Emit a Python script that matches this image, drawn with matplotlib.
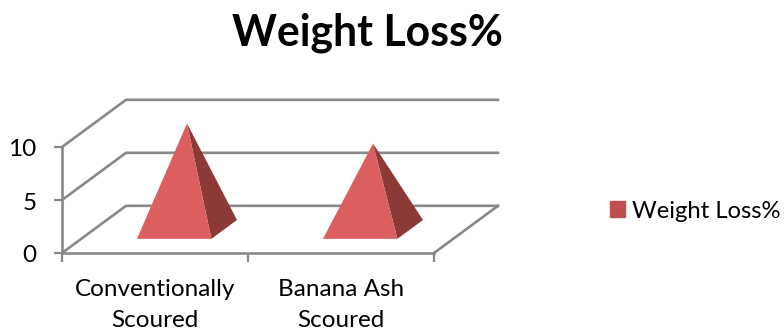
import matplotlib
matplotlib.use('Agg')
import matplotlib.pyplot as plt
from matplotlib.patches import Patch, Polygon
from matplotlib.transforms import ScaledTranslation

plt.rcParams['font.family'] = ['Lato', 'DejaVu Sans']

categories = ['Conventionally\nScoured', 'Banana Ash\nScoured']
weight_loss = [10.0, 8.1]
yticks = [0, 5, 10]

# oblique offset of the back wall, in data units
depth_x = 0.344
depth_y = 4.45
grid_color = '#888888'
line_w = 1.9
half_width = 0.2
front_d, back_d = 0.3, 0.7


def project(x, d, v=0.0):
    return x + d * depth_x, v + d * depth_y


fig = plt.figure(figsize=(7.84, 3.31), dpi=100)
ax = fig.add_axes([62 / 784, 78 / 331, 372 / 784, 106 / 331])
ax.set_xlim(0, 2)
ax.set_ylim(0, 10)

# walls and floor
for v in yticks:
    xs, ys = zip(project(0, 0, v), project(0, 1, v), project(2, 1, v))
    ax.plot(xs, ys, color=grid_color, lw=line_w, clip_on=False, zorder=1)
xs, ys = zip(project(2, 0), project(2, 1))
ax.plot(xs, ys, color=grid_color, lw=line_w, clip_on=False, zorder=1)

# pyramids
for i, val in enumerate(weight_loss):
    c = i + 0.5
    fl = project(c - half_width, front_d)
    fr = project(c + half_width, front_d)
    br = project(c + half_width, back_d)
    apex = project(c, 0.5, val)
    ax.add_patch(Polygon([fr, br, apex], closed=True, fc='#8b3a38', ec='none',
                         clip_on=False, zorder=3))
    ax.add_patch(Polygon([fl, fr, apex], closed=True, fc='#da5f5e', ec='none',
                         clip_on=False, zorder=4))

for side in ['top', 'right']:
    ax.spines[side].set_visible(False)
for side in ['left', 'bottom']:
    ax.spines[side].set_color(grid_color)
    ax.spines[side].set_linewidth(line_w)

ax.set_yticks(yticks)
ax.set_xticks([0, 1, 2])
ax.set_xticks([0.5, 1.5], labels=categories, minor=True)
ax.set_xticklabels([])
ax.tick_params(axis='x', which='major', length=6.5, width=1.6, color=grid_color)
ax.tick_params(axis='x', which='minor', length=0, pad=19, labelsize=17.5, labelcolor='black')
ax.tick_params(axis='y', length=6, width=1.6, color=grid_color, labelsize=17.5, pad=12.5)
for lab in ax.get_xticklabels(minor=True):
    lab.set_linespacing(1.58)
# nudge the value labels down a pixel
nudge = ScaledTranslation(0, -1 / 100, fig.dpi_scale_trans)
for lab in ax.get_yticklabels():
    lab.set_transform(lab.get_transform() + nudge)

fig.text(367 / 784, 1 - 33 / 331, 'Weight Loss%', ha='center', va='center',
         fontsize=30.8, fontweight='bold')

ax.legend(handles=[Patch(color='#c0504d', label='Weight Loss%')], frameon=False,
          loc='center left', bbox_to_anchor=(610 / 784, 1 - 211 / 331),
          bbox_transform=fig.transFigure, fontsize=17.2, handlelength=0.63,
          handleheight=0.63, handletextpad=0.3, borderpad=0, borderaxespad=0)

fig.savefig('out.png', dpi=100)
